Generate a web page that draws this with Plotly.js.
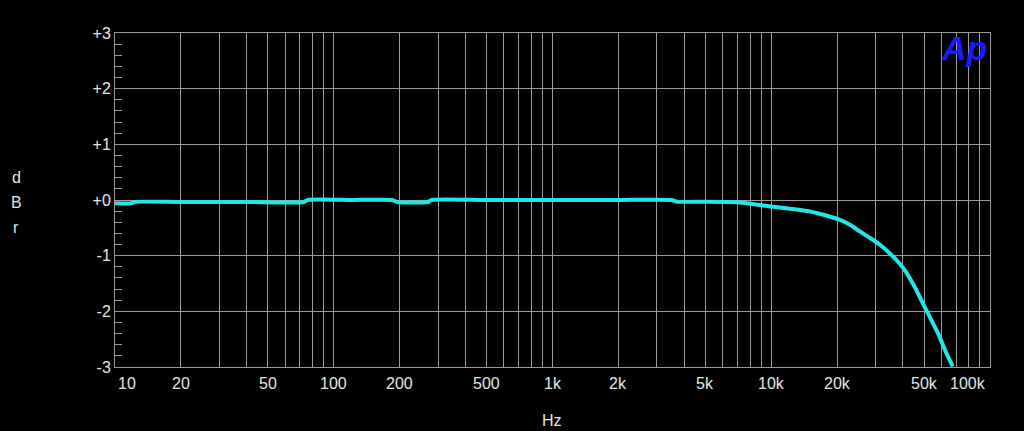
<!DOCTYPE html>
<html>
<head>
<meta charset="utf-8">
<script src="https://cdn.plot.ly/plotly-3.0.1.min.js"></script>
<style>html,body{margin:0;padding:0;background:#000;}#chart{width:1024px;height:431px;}</style>
</head>
<body>
<div id="chart"></div>
<script>
// Frequency response data (Hz, dBr)
const freqHz = [10, 11.8, 12.2, 20, 40, 73, 76, 120, 185, 195, 270, 280, 500, 1000, 2000, 3500, 3700, 5000, 7000, 8500, 10000, 12500, 15000, 17500, 20500, 23000, 25300, 28000, 31300, 37200, 40600, 45100, 50100, 53800, 58700, 63000, 67600];
const levelDb = [-0.06, -0.06, -0.035, -0.035, -0.035, -0.035, 0.0, 0.0, 0.0, -0.035, -0.035, 0.0, 0.0, 0.0, 0.0, 0.0, -0.03, -0.03, -0.04, -0.08, -0.115, -0.16, -0.205, -0.27, -0.354, -0.45, -0.56, -0.67, -0.80, -1.07, -1.25, -1.55, -1.91, -2.15, -2.45, -2.74, -2.99];

const xTickVals = [10, 20, 50, 100, 200, 500, 1000, 2000, 5000, 10000, 20000, 50000, 100000];
const xTickText = ["10", "20", "50", "100", "200", "500", "1k", "2k", "5k", "10k", "20k", "50k", "100k"];
const yTickVals = [-3, -2, -1, 0, 1, 2, 3];
const yTickText = ["-3", "-2", "-1", "+0", "+1", "+2", "+3"];
const yTitleLetters = ["d", "B", "r"];
const xTitle = "Hz";
const logoText = "Ap";

const decades = [10, 100, 1000, 10000];
const gridVals = [];
decades.forEach(d => { for (let m = 1; m <= 9; m++) gridVals.push(d * m); });
gridVals.push(100000);

const FONT = "Liberation Sans, Arial, sans-serif";
const TXT = "#e6e6e6";
const GRID = "#9c9c9c";

const annotations = xTickVals.map((v, i) => {
  let anchor = "center", xs = 0;
  if (i === 0) { anchor = "left"; xs = 1; }
  if (i === xTickVals.length - 1) { anchor = "right"; xs = -2; }
  return {
    x: Math.log10(v), xref: "x", y: 0, yref: "paper",
    yanchor: "middle", yshift: -16, xshift: xs,
    xanchor: anchor, text: xTickText[i], showarrow: false,
    font: {family: FONT, size: 16, color: TXT}
  };
});
yTitleLetters.forEach((ch, i) => {
  annotations.push({
    x: 0, xref: "paper", xanchor: "center", xshift: -99,
    y: 1, yref: "paper", yanchor: "middle", yshift: -(177 + 25 * i - 33),
    text: ch, showarrow: false,
    font: {family: FONT, size: 16, color: TXT}
  });
});
annotations.push({
  x: 0, xref: "paper", xanchor: "center", xshift: 552 - 115,
  y: 0, yref: "paper", yanchor: "middle", yshift: -(420 - 367),
  text: xTitle, showarrow: false, font: {family: FONT, size: 16, color: TXT}
});
annotations.push({
  x: 1, xref: "paper", xanchor: "right", xshift: -1, y: 1, yref: "paper", yanchor: "top", yshift: 6,
  text: logoText, showarrow: false,
  font: {family: FONT, size: 34, color: "#1a1aff", weight: "bold", style: "italic"}
});

const trace = {
  x: freqHz, y: levelDb, type: "scatter", mode: "lines",
  line: {color: "#22e6e8", width: 4, shape: "spline", smoothing: 0.6},
  hoverinfo: "skip"
};

const layout = {
  width: 1024, height: 431,
  margin: {l: 115, r: 34, t: 33, b: 64, pad: 0},
  paper_bgcolor: "#000", plot_bgcolor: "#000",
  showlegend: false,
  xaxis: {
    type: "log", range: [1, 5],
    tickvals: gridVals, showticklabels: false, ticks: "",
    showgrid: true, gridcolor: GRID, gridwidth: 1,
    showline: true, linecolor: GRID, linewidth: 1, mirror: true,
    zeroline: false, fixedrange: true
  },
  yaxis: {
    range: [-3, 3],
    tickvals: yTickVals, ticktext: yTickText,
    ticks: "inside", ticklen: 7, tickcolor: GRID, tickwidth: 1,
    minor: {dtick: 0.2, ticks: "inside", ticklen: 7, tickcolor: GRID, tickwidth: 1, showgrid: false},
    showgrid: true, gridcolor: GRID, gridwidth: 1,
    showline: true, linecolor: GRID, linewidth: 1, mirror: true,
    zeroline: false, fixedrange: true,
    tickfont: {family: FONT, size: 16, color: TXT}
  },
  annotations: annotations
};

Plotly.newPlot("chart", [trace], layout, {displayModeBar: false, staticPlot: true});
</script>
</body>
</html>
